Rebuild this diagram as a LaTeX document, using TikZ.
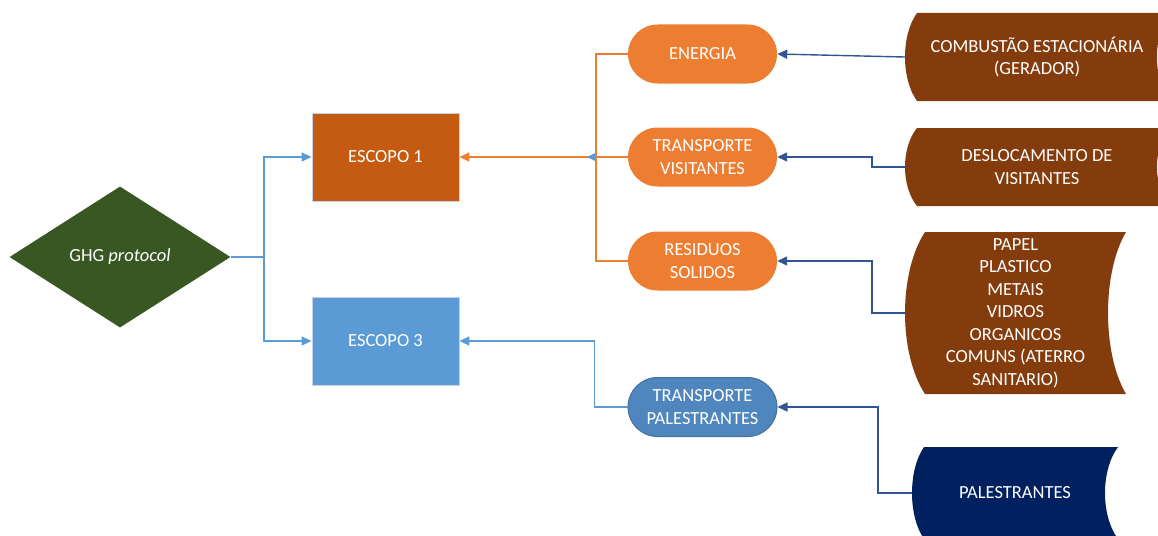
\documentclass[tikz,border=0pt]{standalone}
\usepackage{fontspec}
\setmainfont{Carlito}
\usetikzlibrary{arrows.meta,shapes.geometric,calc}
\definecolor{cBrown}{HTML}{843C0C}
\definecolor{cNavy}{HTML}{002060}
\definecolor{cGreen}{HTML}{385723}
\definecolor{cEsc}{HTML}{C55A11}
\definecolor{cOrange}{HTML}{ED7D31}
\definecolor{cLight}{HTML}{5B9BD5}
\definecolor{cMid}{HTML}{4E86BD}
\definecolor{cMidB}{HTML}{41719C}
\definecolor{cDark}{HTML}{2F5597}
\definecolor{cBorder}{HTML}{C9D2E2}
\newcommand\sdnode[9]{% name, color, L, T, R, B, left bulge, right bulge, text
  \fill[#2] ({#3+#7},#4) -- (#5,#4)
    .. controls ({#5-1.333*#8},{#4+0.25*(#6-#4)}) and ({#5-1.333*#8},{#6-0.25*(#6-#4)}) .. (#5,#6)
    -- ({#3+#7},#6)
    .. controls ({#3+#7-1.333*#7},{#6-0.25*(#6-#4)}) and ({#3+#7-1.333*#7},{#4+0.25*(#6-#4)}) .. cycle;
  \node[txt, rectangle, minimum width={#5-#3}, minimum height={#6-#4}, inner sep=0pt] (#1) at ({(#3+#5)/2},{(#4+#6)/2}) {#9};}
\begin{document}
\begin{tikzpicture}[x=1pt,y=-1pt,
  txt/.style={text=white, font=\fontsize{18.5}{22.5}\selectfont, align=center},
  box/.style={txt, rectangle, minimum width=147pt, minimum height=88pt, inner sep=0pt, draw=cBorder, line width=0.8pt},
  pill/.style={txt, rectangle, rounded corners=29.5pt, minimum width=149pt, minimum height=59pt, inner sep=0pt},
  tip/.style={-{Triangle[length=10pt,width=9pt]}},
  lb/.style={draw=cLight, line width=1.4pt},
  ob/.style={draw=cOrange, line width=1.4pt},
  db/.style={draw=cDark, line width=1.4pt}]
\useasboundingbox (0,0) rectangle (1158,535);
\clip (0,0) rectangle (1158,535);

% left part
\node[txt, diamond, fill=cGreen, minimum width=221pt, minimum height=141pt, inner sep=0pt] (ghg) at (120,257) {GHG \textit{protocol}};
\node[box, fill=cEsc] (esc1) at (385.5,157) {ESCOPO 1};
\node[box, fill=cLight] (esc3) at (385.5,341) {ESCOPO 3};

% pills
\node[pill, fill=cOrange] (en) at (702.5,54) {ENERGIA};
\node[pill, fill=cOrange] (tv) at (702.5,157) {TRANSPORTE\\VISITANTES};
\node[pill, fill=cOrange] (res) at (702.5,261) {RESIDUOS\\SOLIDOS};
\node[pill, fill=cMid, draw=cMidB, line width=1pt] (tp) at (702.5,407) {TRANSPORTE\\PALESTRANTES};

% stored data shapes
\sdnode{comb}{cBrown}{905}{13}{1169}{101}{12}{12}{COMBUSTÃO ESTACIONÁRIA\\(GERADOR)}
\sdnode{desl}{cBrown}{905}{128}{1169}{206}{12}{12}{DESLOCAMENTO DE\\VISITANTES}
\sdnode{papel}{cBrown}{905}{232}{1126}{394}{20}{18}{PAPEL\\PLASTICO\\METAIS\\VIDROS\\ORGANICOS\\COMUNS (ATERRO\\SANITARIO)}
\sdnode{pal}{cNavy}{912}{447}{1118}{539}{12}{13}{PALESTRANTES}

% connectors
\coordinate (k) at (264,257);
\draw[lb, tip] (ghg.east) -- (k) |- (esc1.west);
\draw[lb, tip] (k) |- (esc3.west);

\coordinate (j) at (596,157);
\draw[ob] (en.west) -| (j) |- (res.west);
\draw[ob, tip] (tv.west) -- (esc1.east);
\fill[cLight] (587,157) -- (595,153) -- (595,161) -- cycle;

\draw[lb, tip] (tp.west) -- ++(-33,0) |- (esc3.east);

\draw[db, tip] (comb.west) -- (en.east);
\draw[db, tip] (desl.west) -- ++(-33,0) |- (tv.east);
\draw[db, tip] (papel.west) -- ++(-33,0) |- (res.east);
\draw[db, tip] (pal.west) -- ++(-34,0) |- (tp.east);
\end{tikzpicture}
\end{document}
